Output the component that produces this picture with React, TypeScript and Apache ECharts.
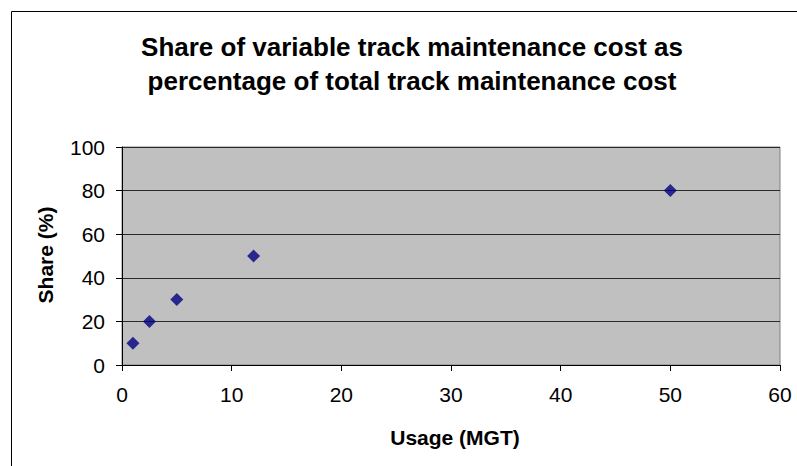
import React, { useEffect, useRef } from "react";
import * as echarts from "echarts";

const usageMGT = [1, 2.5, 5, 12, 50];
const sharePct = [10, 20, 30, 50, 80];
const titleLines = [
  "Share of variable track maintenance cost as",
  "percentage of total track maintenance cost",
];
const xAxisTitle = "Usage (MGT)";
const yAxisTitle = "Share (%)";

const FONT = "'Liberation Sans', Arial, sans-serif";

export default function App() {
  const ref = useRef<HTMLDivElement>(null);
  useEffect(() => {
    if (!ref.current) return;
    const chart = echarts.init(ref.current, undefined, { renderer: "svg" });
    const data = usageMGT.map((x, i) => [x, sharePct[i]]);
    chart.setOption({
      animation: false,
      backgroundColor: "#ffffff",
      grid: {
        left: 122,
        right: 17,
        top: 147,
        bottom: 101,
        show: true,
        backgroundColor: "#C0C0C0",
        borderColor: "#808080",
        borderWidth: 1,
      },
      xAxis: {
        type: "value",
        min: 0,
        max: 60,
        interval: 10,
        axisLine: { show: true, onZero: false, lineStyle: { color: "#000", width: 1 } },
        axisTick: { show: true, inside: false, length: 6, lineStyle: { color: "#000" } },
        axisLabel: { color: "#000", fontSize: 21, fontFamily: FONT, margin: 19 },
        splitLine: { show: false },
      },
      yAxis: {
        type: "value",
        min: 0,
        max: 100,
        interval: 20,
        axisLine: { show: true, onZero: false, lineStyle: { color: "#000", width: 1 } },
        axisTick: { show: true, inside: false, length: 6, lineStyle: { color: "#000" } },
        axisLabel: { color: "#000", fontSize: 21, fontFamily: FONT, margin: 17 },
        splitLine: { show: true, lineStyle: { color: "#2a2a2a", width: 1 } },
      },
      series: [
        {
          type: "scatter",
          data,
          symbol: "diamond",
          symbolSize: 13,
          itemStyle: { color: "#000080" },
          z: 5,
        },
      ],
      graphic: [
        {
          type: "rect",
          silent: true,
          z: -10,
          shape: { x: 11.5, y: 11.5, width: 900, height: 600 },
          style: { fill: "none", stroke: "#000", lineWidth: 1 },
        },
        {
          type: "text",
          x: 412,
          y: 30,
          style: {
            text: titleLines.join("\n"),
            font: `bold 26px ${FONT}`,
            fill: "#000",
            align: "center",
            verticalAlign: "top",
            lineHeight: 34,
          },
        },
        {
          type: "text",
          x: 455,
          y: 437,
          style: {
            text: xAxisTitle,
            font: `bold 21px ${FONT}`,
            fill: "#000",
            align: "center",
            verticalAlign: "middle",
          },
        },
        {
          type: "text",
          x: 45,
          y: 255,
          rotation: Math.PI / 2,
          style: {
            text: yAxisTitle,
            font: `bold 21px ${FONT}`,
            fill: "#000",
            align: "center",
            verticalAlign: "middle",
          },
        },
      ],
    });
    return () => chart.dispose();
  }, []);
  return <div ref={ref} style={{ width: 797, height: 466, position: "absolute", left: 0, top: 0 }} />;
}
